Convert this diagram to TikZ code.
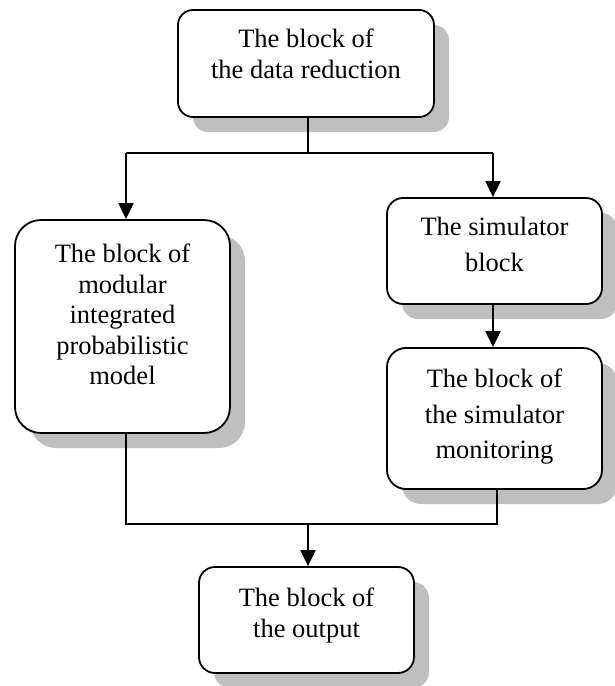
\documentclass[tikz,border=0pt]{standalone}
\usepackage{fontspec}
\setmainfont{Liberation Serif}
\usetikzlibrary{shadows,arrows.meta}
\begin{document}
\begin{tikzpicture}[x=1pt,y=-1pt,
  blk/.style={draw=black, line width=1.8pt, fill=white, rounded corners=#1,
    drop shadow={shadow xshift=15pt, shadow yshift=-15pt, fill=black!25, opacity=1},
    inner sep=0pt},
  txt/.style={anchor=north, inner sep=0pt, align=center},
  conn/.style={draw=black, line width=1.3pt},
  arr/.style={draw=black, line width=2pt, -{Triangle[length=16pt,width=15pt]}}
]
\useasboundingbox (0,0) rectangle (614,686);
% boxes
\node[blk=15pt, minimum width=256pt, minimum height=107pt] (top) at (306,63.5) {};
\node[blk=26pt, minimum width=215pt, minimum height=213pt] (left) at (122.5,326.5) {};
\node[blk=16pt, minimum width=215pt, minimum height=106pt] (sim) at (494.5,251) {};
\node[blk=19pt, minimum width=215pt, minimum height=141pt] (mon) at (494.5,418.5) {};
\node[blk=16pt, minimum width=215pt, minimum height=106pt] (out) at (306.5,620) {};
% texts
\node[txt, font=\fontsize{26.5}{31}\selectfont] (ttop) at (306,29) {The block of\\the data reduction};
\node[txt, font=\fontsize{26.5}{30.5}\selectfont] (tleft) at (122.5,244) {The block of\\modular\\integrated\\probabilistic\\model};
\node[txt, font=\fontsize{26.5}{36}\selectfont] (tsim) at (494.5,217) {The simulator\\block};
\node[txt, font=\fontsize{26.5}{35.5}\selectfont] (tmon) at (494.5,369) {The block of\\the simulator\\monitoring};
\node[txt, font=\fontsize{26.5}{31}\selectfont] (tout) at (306.5,588) {The block of\\the output};
% connectors
\coordinate (s1) at (308,153);
\coordinate (hl) at (126,153);
\coordinate (hr) at (493,153);
\coordinate (bl) at (126,524);
\coordinate (br) at (497,524);
\coordinate (bm) at (308,524);
\draw[conn] (top.south -| s1) -- (s1);
\draw[conn] (hl) -- (hr);
\draw[arr] (hl) -- (left.north -| hl);
\draw[arr] (hr) -- (sim.north -| hr);
\draw[arr] (sim.south -| hr) -- (mon.north -| hr);
\draw[conn] (left.south -| bl) -- (bl) -- (br) -- (mon.south -| br);
\draw[arr] (bm) -- (out.north -| bm);
\end{tikzpicture}
\end{document}
